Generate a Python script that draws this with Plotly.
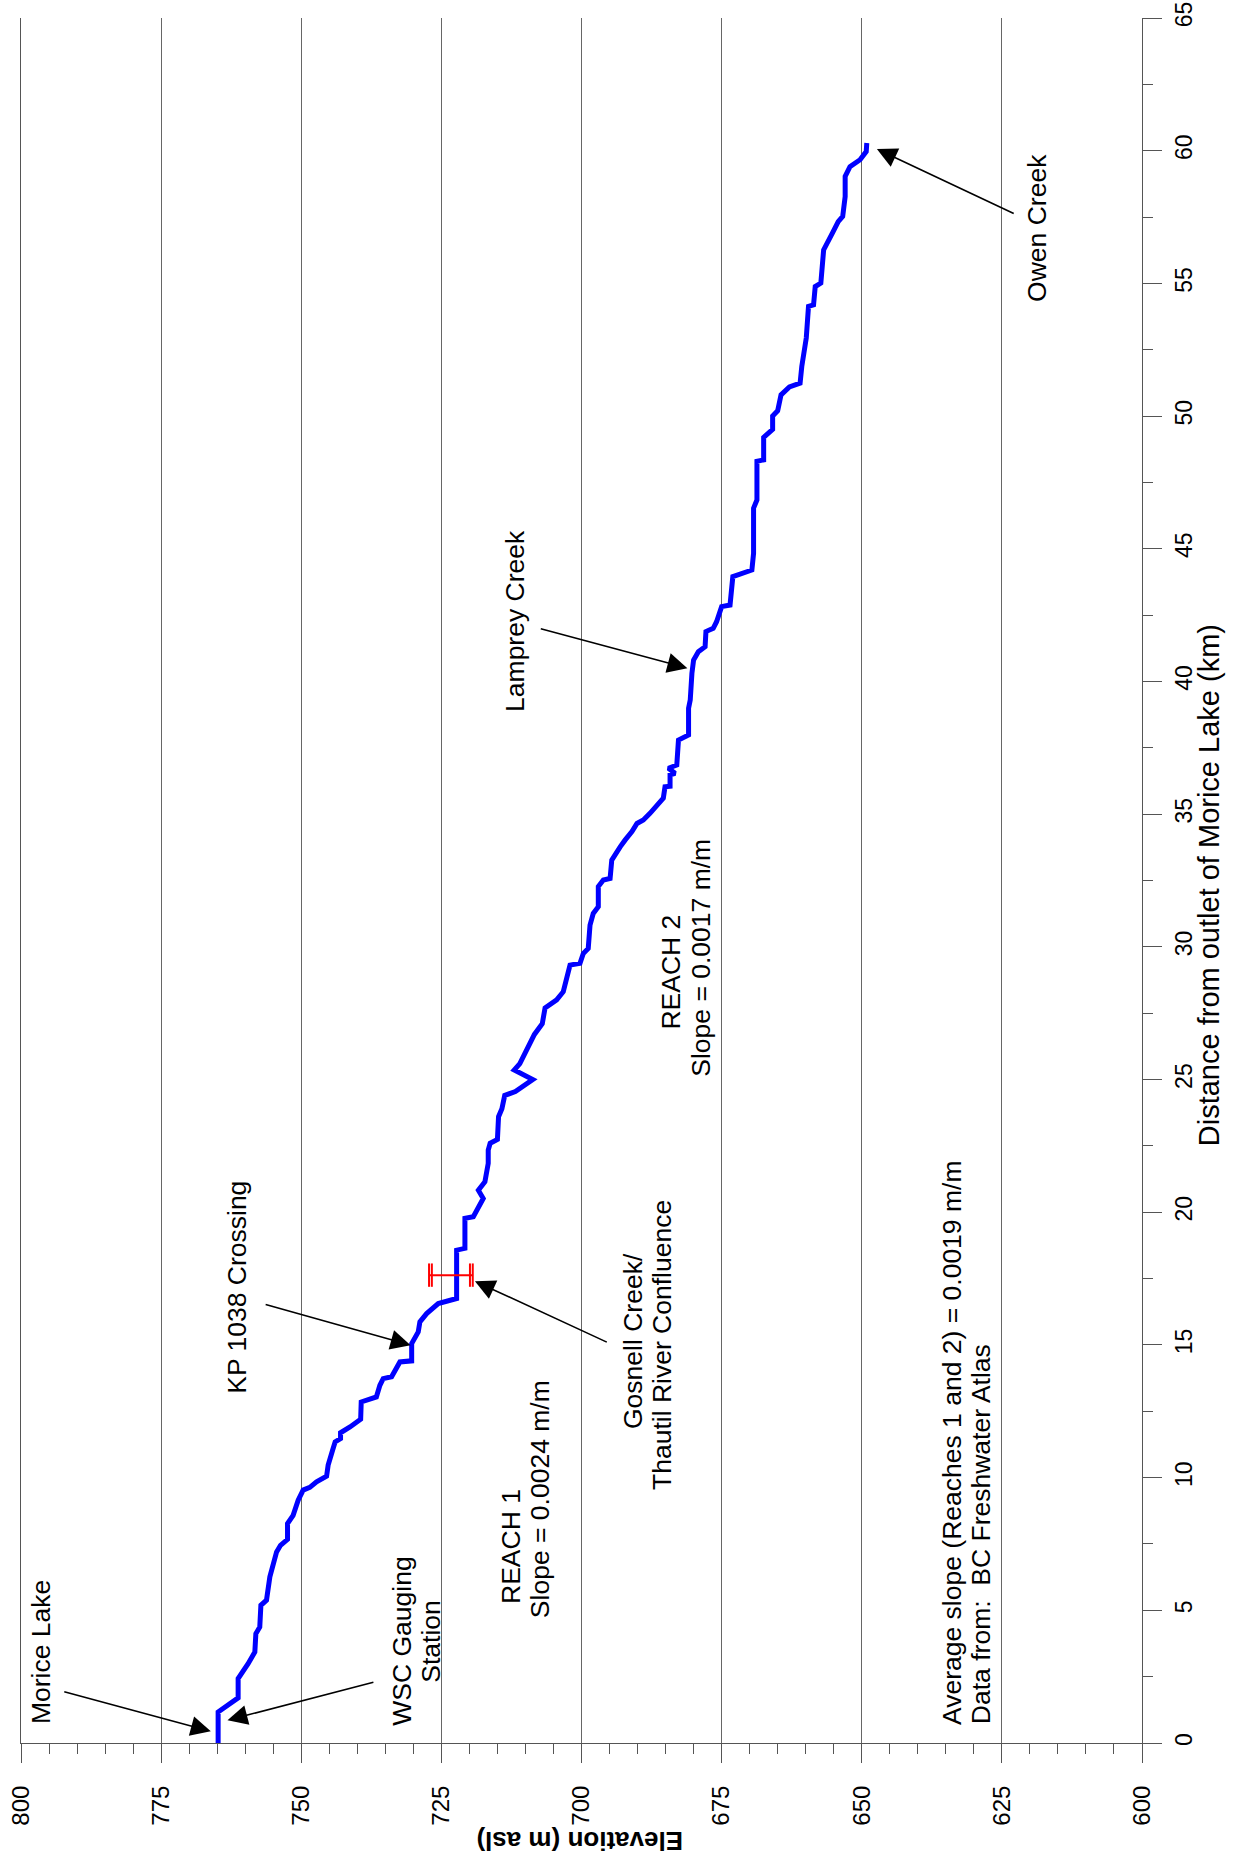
import plotly.graph_objects as go

# Longitudinal profile of the river below Morice Lake
distance_km = [
    0.0, 1.17, 1.70, 2.43, 2.99, 3.43, 4.12, 4.37, 5.19, 5.38, 6.26, 6.76, 7.20, 7.45,
    7.67, 8.27, 8.58, 9.15, 9.53, 9.63, 9.84, 10.05, 10.47, 11.03, 11.35, 11.47, 11.69,
    11.91, 12.20, 12.85, 13.04, 13.48, 13.73, 13.80, 14.36, 14.40, 15.05, 15.49, 15.87,
    16.18, 16.56, 16.75, 18.57, 18.64, 19.77, 19.83, 20.27, 20.52, 20.83, 21.15, 21.84,
    22.34, 22.60, 22.74, 23.60, 23.90, 24.40, 24.55, 25.00, 25.36, 25.60, 26.00, 26.35,
    26.70, 27.10, 27.70, 28.00, 28.31, 29.31, 29.38, 29.75, 29.94, 30.82, 31.26, 31.51,
    32.27, 32.52, 32.58, 33.27, 33.59, 33.77, 34.03, 34.34, 34.65, 34.78, 35.03, 35.35,
    35.60, 36.03, 36.05, 36.48, 36.54, 36.73, 36.85, 37.79, 37.98, 38.99, 39.30, 40.31,
    40.81, 41.12, 41.31, 41.88, 42.00, 42.25, 42.82, 42.88, 43.95, 44.20, 44.83, 46.53,
    46.84, 48.30, 48.35, 49.20, 49.50, 50.00, 50.20, 50.80, 51.10, 51.24, 51.87, 52.94,
    54.13, 54.19, 54.88, 55.01, 56.26, 56.95, 57.33, 57.52, 58.27, 59.03, 59.40, 59.66,
    59.97, 60.29,
]
elevation_m = [
    764.83, 764.83, 761.26, 761.26, 759.48, 758.28, 758.10, 757.40, 757.20, 756.20, 755.60,
    754.90, 754.40, 753.70, 752.45, 752.45, 751.45, 750.55, 749.66, 748.47, 747.27, 745.48,
    745.20, 744.41, 743.95, 742.99, 742.99, 741.30, 739.40, 739.30, 736.60, 735.97, 735.38,
    733.88, 732.40, 730.30, 730.30, 729.13, 728.83, 727.63, 725.56, 722.28, 722.28, 720.80,
    720.80, 719.30, 718.10, 717.53, 718.40, 717.23, 716.64, 716.64, 716.30, 715.00, 714.80,
    714.20, 713.70, 711.80, 708.70, 712.00, 711.00, 710.00, 709.30, 708.40, 707.00, 706.50,
    704.43, 703.25, 702.05, 700.27, 699.68, 698.80, 698.48, 697.90, 697.00, 697.00, 696.10,
    694.90, 694.60, 693.70, 693.10, 692.20, 691.00, 690.10, 688.97, 687.78, 686.30, 685.40,
    685.10, 684.20, 684.20, 683.30, 684.50, 683.00, 682.70, 680.90, 680.90, 680.60, 680.30,
    680.00, 679.15, 677.95, 677.80, 676.50, 675.90, 675.00, 673.50, 673.00, 669.60, 669.30,
    669.30, 668.70, 668.70, 667.50, 667.50, 665.90, 665.90, 665.00, 664.40, 662.90, 661.00,
    660.70, 659.90, 659.50, 658.60, 658.30, 657.30, 656.80, 655.10, 654.20, 653.40, 652.96,
    652.96, 652.10, 650.30, 649.20, 649.10,
]

# KP 1038 pipeline crossing bar (double end caps)
crossing_km = 17.63
crossing_span_elev = [727.2, 719.4]
crossing_cap_elev = [727.2, 726.7, 719.9, 719.4]
crossing_cap_half_km = 0.44

elev_ticks = [800, 775, 750, 725, 700, 675, 650, 625, 600]
dist_ticks = [0, 5, 10, 15, 20, 25, 30, 35, 40, 45, 50, 55, 60, 65]

FONT = "Liberation Sans, Arial, Helvetica, sans-serif"
AXIS_GREY = "#555555"
LABEL_SIZE = 26.5

fig = go.Figure()

fig.add_trace(go.Scatter(
    x=elevation_m, y=distance_km, mode="lines",
    line=dict(color="#0000FF", width=5), hoverinfo="skip", showlegend=False,
))

fig.add_trace(go.Scatter(
    x=crossing_span_elev, y=[crossing_km] * len(crossing_span_elev), mode="lines",
    line=dict(color="#FF0000", width=2), hoverinfo="skip", showlegend=False,
))
fig.add_trace(go.Scatter(
    x=crossing_cap_elev, y=[crossing_km] * len(crossing_cap_elev), mode="markers",
    marker=dict(size=1, color="rgba(0,0,0,0)"),
    error_y=dict(type="constant", value=crossing_cap_half_km, width=0,
                 thickness=2, color="#FF0000"),
    hoverinfo="skip", showlegend=False,
))

annotations = []


def label(text, x, y, anchor="middle"):
    annotations.append(dict(
        text=text, x=x, y=y, xref="x", yref="y", showarrow=False,
        textangle=-90, xanchor="center", yanchor=anchor,
        font=dict(family=FONT, size=LABEL_SIZE, color="black"),
    ))


def pointer(head, tail):
    annotations.append(dict(
        text="", x=head[0], y=head[1], ax=tail[0], ay=tail[1],
        xref="x", yref="y", axref="x", ayref="y", showarrow=True,
        arrowhead=2, arrowsize=2.5, arrowwidth=1.6, arrowcolor="black",
    ))


label("Morice Lake", 796.5, 3.41)
pointer((766.14, 0.44), (792.55, 1.95))

label("WSC Gauging", 732.05, 3.85)
label("Station", 726.87, 3.85)
pointer((763.16, 0.86), (736.86, 2.30))

label("KP 1038 Crossing", 761.52, 17.18)
pointer((730.49, 14.99), (756.62, 16.54))

label("Gosnell Creek/", 690.85, 15.14)
label("Thautil River Confluence", 685.67, 14.99)
pointer((719.01, 17.40), (695.22, 15.08))

label("REACH 1", 712.7, 7.40)
label("Slope = 0.0024 m/m", 707.35, 9.2)

label("REACH 2", 683.95, 29.05)
label("Slope = 0.0017 m/m", 678.63, 29.6)

label("Lamprey Creek", 711.87, 42.28)
pointer((681.11, 40.5), (707.53, 42.0))

label("Owen Creek", 618.74, 57.09)
pointer((647.30, 60.06), (622.62, 57.61))

label("Average slope (Reaches 1 and 2) = 0.0019 m/m", 634.0, 0.62, anchor="bottom")
label("Data from:&nbsp; BC Freshwater Atlas", 628.8, 0.62, anchor="bottom")

# Axis titles (placed in paper space, outside the plotting area)
annotations.append(dict(
    text="<b>Elevation (m asl)</b>", x=0.4987, y=-0.0572, xref="paper", yref="paper",
    showarrow=False, textangle=180, xanchor="center", yanchor="middle",
    font=dict(family=FONT, size=26, color="black"),
))
annotations.append(dict(
    text="Distance from outlet of Morice Lake (km)", x=1.0595, y=0.4971,
    xref="paper", yref="paper", showarrow=False, textangle=-90,
    xanchor="center", yanchor="middle",
    font=dict(family=FONT, size=29, color="black"),
))

fig.update_layout(
    width=1251, height=1870,
    margin=dict(l=21, r=109, t=18, b=127, autoexpand=False),
    paper_bgcolor="white", plot_bgcolor="white",
    annotations=annotations,
    showlegend=False,
)

fig.update_xaxes(
    range=[800, 600], tickmode="array", tickvals=elev_ticks,
    ticktext=[str(v) for v in elev_ticks], automargin=False,
    ticks="outside", ticklen=19, tickwidth=1, tickcolor=AXIS_GREY,
    tickangle=-90, tickfont=dict(family=FONT, size=24, color="black"),
    ticklabelstandoff=13,
    showgrid=True, gridcolor="#666666", gridwidth=1,
    showline=True, linecolor=AXIS_GREY, linewidth=1, zeroline=False,
    minor=dict(dtick=5, ticks="outside", ticklen=10, tickcolor=AXIS_GREY, showgrid=False),
)
fig.update_yaxes(
    range=[0, 65], side="right", tickmode="array", tickvals=dist_ticks,
    ticktext=[str(v) for v in dist_ticks], automargin=False,
    ticks="outside", ticklen=19, tickwidth=1, tickcolor=AXIS_GREY,
    tickangle=-90, tickfont=dict(family=FONT, size=23, color="black"),
    ticklabelstandoff=2,
    showgrid=False, showline=True, linecolor=AXIS_GREY, linewidth=1,
    mirror=True, zeroline=False,
    minor=dict(dtick=2.5, ticks="outside", ticklen=10, tickcolor=AXIS_GREY, showgrid=False),
)

fig.write_html("out.html")
